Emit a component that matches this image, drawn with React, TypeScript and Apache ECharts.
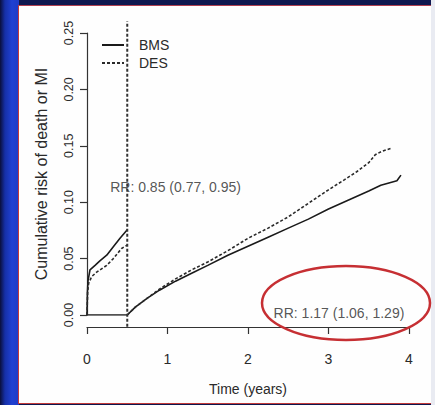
import React, { useEffect, useRef } from "react";
import * as echarts from "echarts";

// ---- data ----
const X_TICKS = [0, 1, 2, 3, 4];
const Y_TICKS = [0, 0.05, 0.1, 0.15, 0.2, 0.25];
const LANDMARK = 0.5;
const LANDMARK_SPAN = [-0.0105, 0.2605];

const BMS_EARLY_T = [0, 0.005, 0.012, 0.037, 0.1, 0.16, 0.245, 0.327, 0.41, 0.5];
const BMS_EARLY = [0, 0.02, 0.03, 0.04, 0.044, 0.048, 0.053, 0.0606, 0.068, 0.0755];
const DES_EARLY_T = [0, 0.008, 0.02, 0.058, 0.12, 0.245, 0.327, 0.43, 0.5];
const DES_EARLY = [0, 0.02, 0.028, 0.034, 0.038, 0.044, 0.05, 0.059, 0.062];

const BASE_T = [0, 0.5];
const BASE_V = [0, 0];

const BMS_LATE_T = [0.5, 0.6, 0.75, 0.9, 1.1, 1.3, 1.5, 1.75, 2.0, 2.25, 2.5, 2.75, 3.0, 3.25, 3.5, 3.65, 3.75, 3.85, 3.9];
const BMS_LATE = [0, 0.007, 0.015, 0.022, 0.03, 0.037, 0.044, 0.053, 0.061, 0.069, 0.077, 0.085, 0.094, 0.102, 0.11, 0.115, 0.117, 0.119, 0.124];
const DES_LATE_T = [0.5, 0.6, 0.75, 0.9, 1.1, 1.3, 1.5, 1.75, 2.0, 2.25, 2.5, 2.75, 3.0, 3.2, 3.35, 3.5, 3.58, 3.66, 3.79];
const DES_LATE = [0, 0.007, 0.015, 0.023, 0.032, 0.04, 0.047, 0.057, 0.068, 0.077, 0.087, 0.099, 0.111, 0.12, 0.127, 0.135, 0.142, 0.145, 0.148];

const RR_NOTES = [
  { x: 1.1, y: 0.1135, text: "RR: 0.85 (0.77, 0.95)" },
  { x: 3.13, y: 0.0018, text: "RR: 1.17 (1.06, 1.29)" },
];

const SERIES_NAMES = ["BMS", "DES"];

const pts = (t: number[], v: number[]) => t.map((x, i) => [x, v[i]]);

const SANS = "'Liberation Sans', Arial, sans-serif";
const TXT = "#2a2a2a";

export default function App() {
  const ref = useRef<HTMLDivElement>(null);
  useEffect(() => {
    document.body.style.margin = "0";
    if (!ref.current) return;
    const chart = echarts.init(ref.current, undefined, { renderer: "svg" });
    const solid = { color: "#1a1a1a", width: 1.6, type: "solid" as const };
    const dashed = { color: "#2a2a2a", width: 1.6, type: [3, 2] as any };
    chart.setOption({
      animation: false,
      backgroundColor: "transparent",
      grid: { left: 87, right: 26, top: 33, bottom: 90, containLabel: false, outerBoundsMode: "none" },
      legend: {
        data: SERIES_NAMES,
        orient: "vertical",
        left: 96,
        top: 33,
        itemWidth: 22,
        itemHeight: 14,
        itemGap: 4,
        selectedMode: false,
        itemStyle: { opacity: 0 },
        textStyle: { fontSize: 14, fontFamily: SANS, color: TXT, padding: [0, 0, 0, 10] },
      },
      xAxis: {
        type: "value",
        min: X_TICKS[0],
        max: X_TICKS[X_TICKS.length - 1],
        interval: 1,
        offset: 12,
        axisLine: { show: true, onZero: false, lineStyle: { color: "#333", width: 1.2 } },
        axisTick: { show: true, length: 7, lineStyle: { color: "#333", width: 1.2 } },
        axisLabel: { margin: 25, fontSize: 14, fontFamily: SANS, color: TXT },
        splitLine: { show: false },
        name: "Time (years)",
        nameLocation: "middle",
        nameGap: 55,
        nameTextStyle: { fontSize: 14, fontFamily: SANS, color: TXT },
      },
      yAxis: {
        type: "value",
        min: Y_TICKS[0],
        max: Y_TICKS[Y_TICKS.length - 1],
        interval: 0.05,
        axisLine: { show: true, lineStyle: { color: "#333", width: 1.2 } },
        axisTick: { show: true, length: 7, lineStyle: { color: "#333", width: 1.2 } },
        axisLabel: {
          rotate: 90,
          margin: 12,
          fontSize: 12.5,
          fontFamily: SANS,
          color: TXT,
          formatter: (v: number) => v.toFixed(2),
        },
        splitLine: { show: false },
        name: "Cumulative risk of death or MI",
        nameLocation: "middle",
        nameRotate: 90,
        nameGap: 38,
        nameTextStyle: { fontSize: 16, fontFamily: SANS, color: TXT },
      },
      series: [
        { type: "line", name: "BMS", data: pts(BMS_EARLY_T, BMS_EARLY), symbol: "none", lineStyle: solid, color: "#1a1a1a" },
        { type: "line", name: "BMS", data: pts(BMS_LATE_T, BMS_LATE), symbol: "none", lineStyle: solid, color: "#1a1a1a" },
        { type: "line", name: "base", data: pts(BASE_T, BASE_V), symbol: "none", lineStyle: solid, color: "#1a1a1a" },
        { type: "line", name: "DES", data: pts(DES_EARLY_T, DES_EARLY), symbol: "none", lineStyle: dashed, color: "#2a2a2a" },
        { type: "line", name: "DES", data: pts(DES_LATE_T, DES_LATE), symbol: "none", lineStyle: dashed, color: "#2a2a2a" },
        {
          type: "line",
          name: "landmark",
          data: LANDMARK_SPAN.map((y) => [LANDMARK, y]),
          symbol: "none",
          clip: false,
          lineStyle: { color: "#333", width: 2, type: [3, 2] },
        },
        {
          type: "scatter",
          name: "notes",
          symbolSize: 1,
          clip: false,
          silent: true,
          itemStyle: { color: "transparent" },
          data: RR_NOTES.map((n) => ({
            value: [n.x, n.y],
            label: {
              show: true,
              position: "inside",
              formatter: n.text,
              fontSize: 14,
              fontFamily: SANS,
              color: TXT,
            },
          })),
        },
      ],
      graphic: [
        {
          type: "ellipse",
          shape: { cx: 346, cy: 303, rx: 84, ry: 37 },
          style: { fill: "none", stroke: "#c62f33", lineWidth: 2.5 },
          z: 100,
        },
      ],
    });
    return () => chart.dispose();
  }, []);

  return (
    <div style={{ position: "fixed", left: 0, top: 0, width: 435, height: 405, background: "#0e1850", overflow: "hidden" }}>
      <div
        style={{
          position: "absolute",
          left: 0,
          top: 0,
          width: 19,
          height: 405,
          background: "linear-gradient(to right, #0a0f3c 0px, #1630a8 5px, #1f40d2 12px, #1e3cc8 17px)",
        }}
      />
      <div style={{ position: "absolute", left: 431, top: 0, width: 4, height: 405, background: "#e9ebf2" }} />
      <div
        style={{
          position: "absolute",
          left: 18,
          top: 5,
          width: 412,
          height: 397,
          background: "#fefefe",
          borderLeft: "1px solid #c23a3a",
          borderTop: "1px solid #b04050",
          borderBottom: "1px solid #c23a3a",
        }}
      />
      <div ref={ref} style={{ position: "absolute", left: 0, top: 0, width: 435, height: 405 }} />
    </div>
  );
}
